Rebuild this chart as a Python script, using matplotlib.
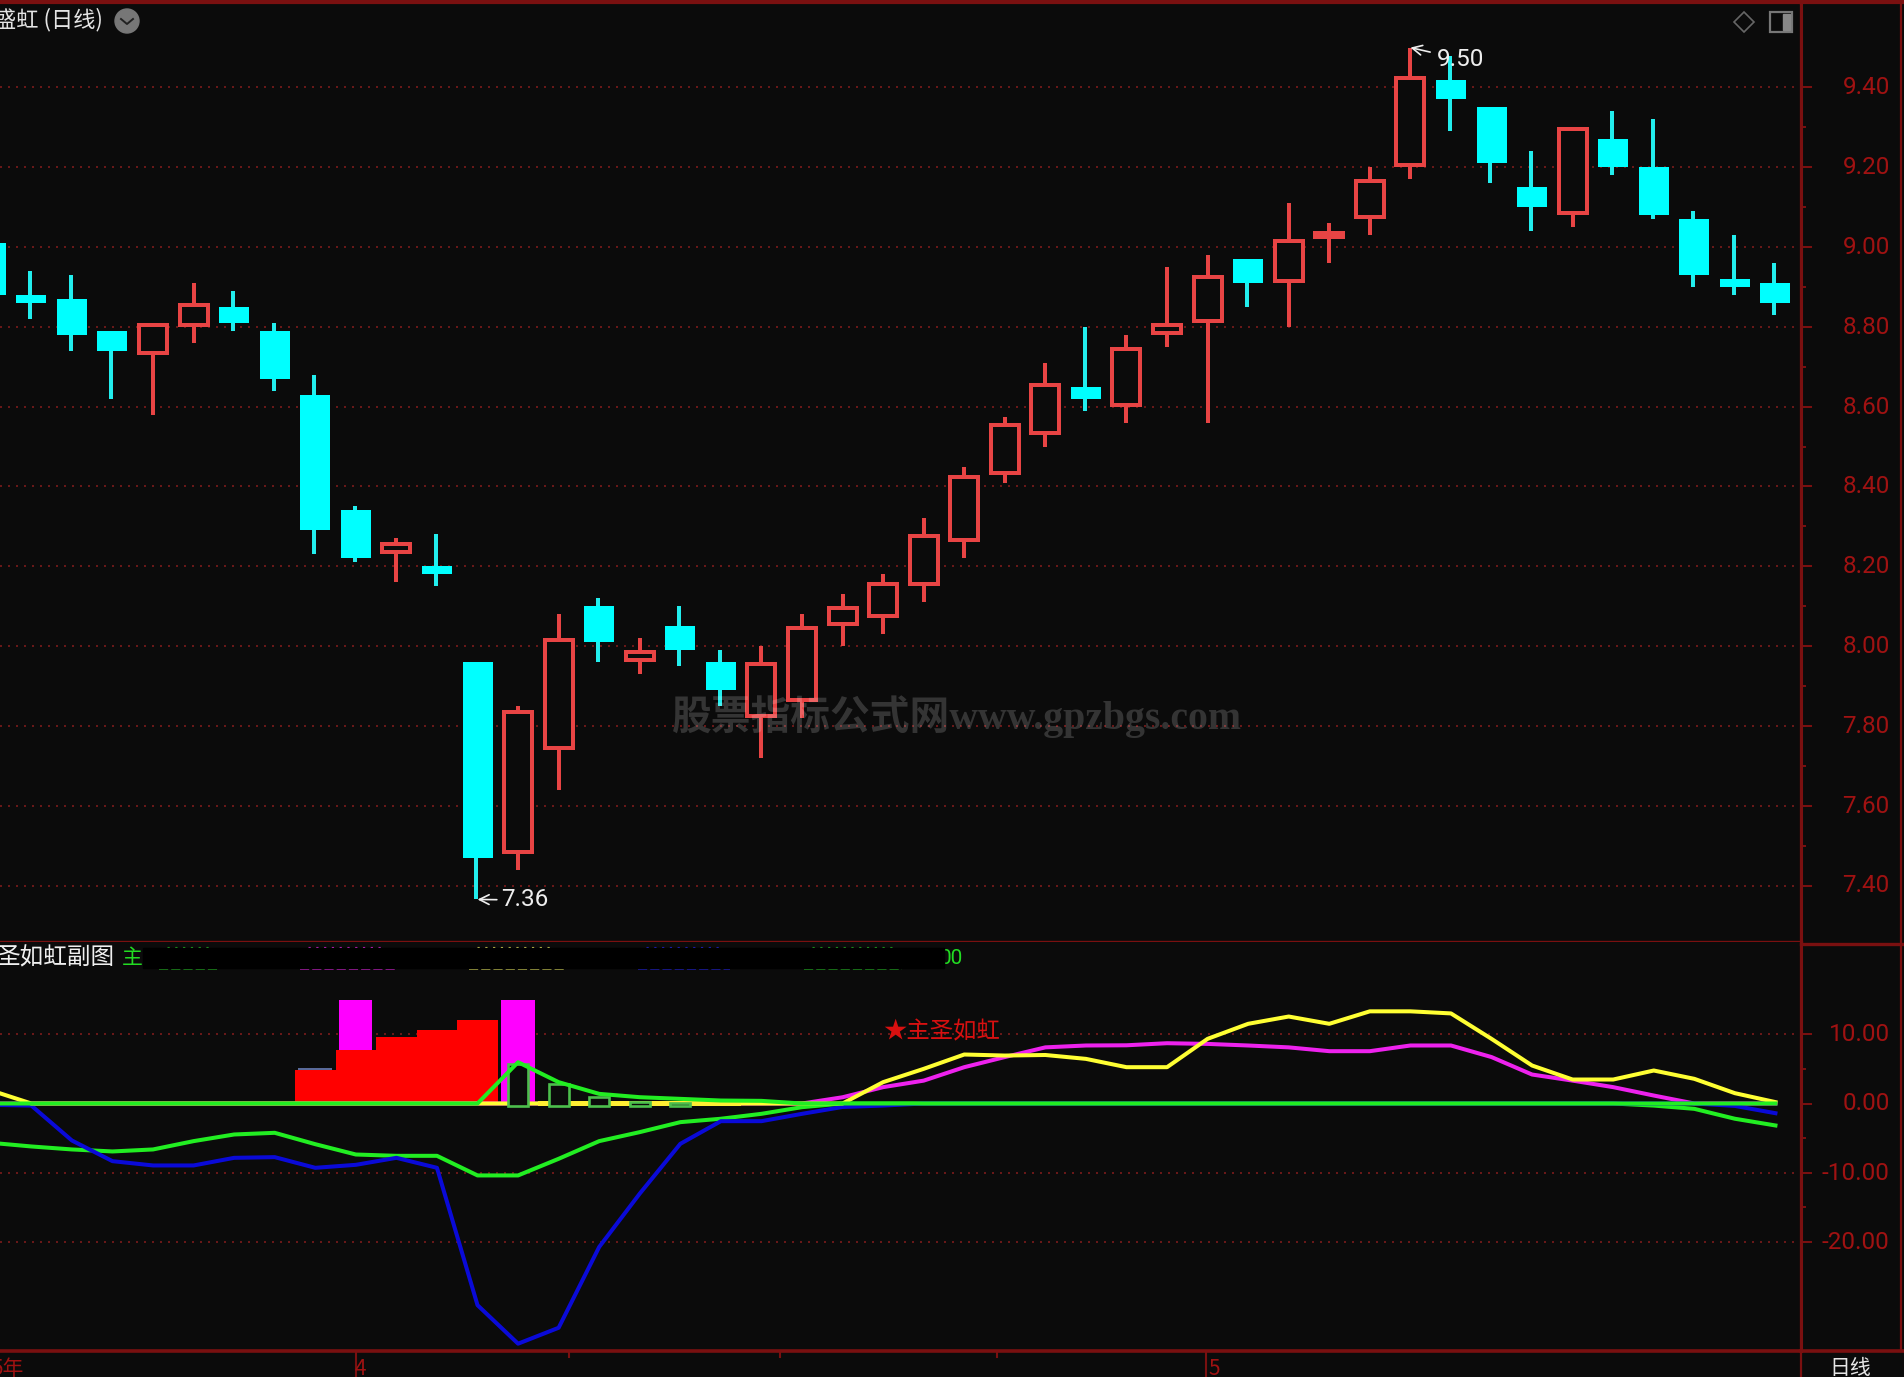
import matplotlib
matplotlib.use("Agg")
import matplotlib.pyplot as plt
from matplotlib.patches import Circle, Polygon, Rectangle
from matplotlib.ticker import FixedLocator
from matplotlib.transforms import ScaledTranslation
import numpy as np

# ---------- data ----------
opens = [9.01,8.88,8.87,8.79,8.73,8.80,8.85,8.79,8.63,8.34,8.23,8.20,7.96,7.48,7.74,8.10,7.96,8.05,7.96,7.82,7.86,8.05,8.07,8.15,8.26,8.43,8.53,8.65,8.60,8.78,8.81,8.97,8.91,9.02,9.07,9.20,9.42,9.35,9.15,9.08,9.27,9.20,9.07,8.92,8.91]
closes = [8.88,8.86,8.78,8.74,8.81,8.86,8.81,8.67,8.29,8.22,8.26,8.18,7.47,7.84,8.02,8.01,7.99,7.99,7.89,7.96,8.05,8.10,8.16,8.28,8.43,8.56,8.66,8.62,8.75,8.81,8.93,8.91,9.02,9.04,9.17,9.43,9.37,9.21,9.10,9.30,9.20,9.08,8.93,8.90,8.86]
highs = [9.01,8.94,8.93,8.79,8.81,8.91,8.89,8.81,8.68,8.35,8.27,8.28,7.96,7.85,8.08,8.12,8.02,8.10,7.99,8.00,8.08,8.13,8.18,8.32,8.45,8.575,8.71,8.80,8.78,8.95,8.98,8.97,9.11,9.06,9.20,9.50,9.48,9.35,9.24,9.30,9.34,9.32,9.09,9.03,8.96]
lows = [8.88,8.82,8.74,8.62,8.58,8.76,8.79,8.64,8.23,8.21,8.16,8.15,7.365,7.44,7.64,7.96,7.93,7.95,7.85,7.72,7.82,8.00,8.03,8.11,8.22,8.41,8.50,8.59,8.56,8.75,8.56,8.85,8.80,8.96,9.03,9.17,9.29,9.16,9.04,9.05,9.18,9.07,8.90,8.88,8.83]

lower_green = [-5.67,-6.2,-6.63,-6.92,-6.63,-5.43,-4.47,-4.23,-5.87,-7.36,-7.55,-7.55,-10.38,-10.38,-7.98,-5.43,-4.13,-2.69,-2.2,-1.49,-0.53,0,0,0,0,0,0,0,0,0,0,0,0,0,0,0,0,0,0,0,0,-0.3,-0.77,-2.2,-3.17]
blue_line = [-0.2,-0.3,-5.34,-8.32,-8.94,-8.94,-7.84,-7.74,-9.28,-8.85,-7.84,-9.28,-29.1,-34.66,-32.36,-20.7,-13.0,-5.82,-2.55,-2.55,-1.49,-0.5,-0.3,0,0,0,0,0,0,0,0,0,0,0,0,0,0,0,0,0,0,0,0,-0.35,-1.4]
magenta_line = [0,0,0,0,0,0,0,0,0,0,0,0,0,0,0,0,0,0,0,0,0,0.9,2.36,3.3,5.24,6.7,8.1,8.37,8.4,8.7,8.6,8.37,8.1,7.55,7.55,8.37,8.37,6.7,4.18,3.3,2.36,1.15,0,0,0]
yellow_line = [1.9,0,0,0,0,0,0,0,0,0,0,0,0,0,0,0,0,0,0,0,0,0,3.08,5.0,7.07,6.92,7.0,6.44,5.24,5.24,9.33,11.5,12.55,11.5,13.3,13.3,13.0,9.33,5.48,3.46,3.46,4.76,3.56,1.49,0.2]
zero_green = [0,0,0,0,0,0,0,0,0,0,0,0,0,5.96,3.08,1.39,0.91,0.67,0.43,0.38,0,0,0,0,0,0,0,0,0,0,0,0,0,0,0,0,0,0,0,0,0,0,0,0,0]

red_idx = [8, 9, 10, 11, 12]
red_vals = [4.86, 7.79, 9.57, 10.67, 12.1]
magenta_idx = [9, 13]
magenta_vals = [15.0, 15.0]
slate_idx = [8]
slate_vals = [5.15]
yellow_idx = [14, 15, 16, 17, 18]
yellow_vals = [0.3, 0.3, 0.3, 0.3, 0.3]
outline_idx = [13, 14, 15, 16, 17]
outline_vals = [5.96, 3.08, 1.25, 0.58, 0.43]

price_ticks = [7.40,7.60,7.80,8.00,8.20,8.40,8.60,8.80,9.00,9.20,9.40]
price_minor = [7.50,7.70,7.90,8.10,8.30,8.50,8.70,8.90,9.10,9.30]
ind_ticks = [-20, -10, 0, 10]
ind_labels = ["-20.00", "-10.00", "0.00", "10.00"]
ind_minor = [-15, -5, 5]
x_major = [9, 29.97]
x_minor = [14.25, 19.45, 24.8]

# ---------- style ----------
W, H = 1904, 1377
BG = "#0b0b0b"
FRAME = "#7a1010"
GRID = "#681818"
LBL = "#a01212"
RED = "#e84444"
CYAN = "#00ffff"
CJK = ["Noto Sans CJK SC", "DejaVu Sans"]
NUM = "Roboto"

# pixel geometry
X0 = -9.2; DX = 40.56
PANEL_R = 1801; SPLIT = 942; BOTTOM = 1351; TOP = 2
def px_ax(x0, y0, x1, y1, **kw):
    return fig.add_axes([x0 / W, 1 - y1 / H, (x1 - x0) / W, (y1 - y0) / H], **kw)

fig = plt.figure(figsize=(W / 100, H / 100), dpi=100, facecolor=BG)
ax = px_ax(0, TOP, PANEL_R, SPLIT, facecolor=BG)
ai = px_ax(0, SPLIT, PANEL_R, BOTTOM, facecolor=BG)
ov = px_ax(0, 0, W, H, facecolor="none", zorder=10)
ov.set_xlim(0, W); ov.set_ylim(H, 0); ov.axis("off")

xlim = ((0 - X0) / DX, (PANEL_R - X0) / DX)
PY = 399.0
ax.set_xlim(*xlim)
ax.set_ylim(9.40 - (SPLIT - 87.5) / PY, 9.40 + (87.5 - TOP) / PY)
IY = 6.93
ai.set_xlim(*xlim)
ai.set_ylim((1103.5 - BOTTOM) / IY, (1103.5 - SPLIT) / IY)

# ---------- price panel ----------
dots = (0, (1, 3))
grid_end = (1795 - X0) / DX
ax.hlines(price_ticks, xlim[0], grid_end, colors=GRID, lw=1.44, linestyles=[dots], zorder=1)

n = len(opens)
inset = 2 / PY
for i in range(n):
    o, c, h, l = opens[i], closes[i], highs[i], lows[i]
    if c >= o:
        ax.vlines(i, l, h, colors=RED, lw=2.88, zorder=3)
        ax.bar(i, c - o - 2 * inset, bottom=o + inset, width=0.69, facecolor=BG,
               edgecolor=RED, linewidth=2.88, zorder=4)
    else:
        ax.vlines(i - 0.03, l, h, colors="#22eeee", lw=2.88, zorder=3)
        ax.bar(i, o - c, bottom=c, width=0.74, facecolor=CYAN, edgecolor="none", zorder=4)

for a in (ax, ai):
    a.tick_params(which="both", left=False, bottom=False, labelleft=False, labelbottom=False,
                  right=True, labelright=True, colors=FRAME)
    for s in ("left", "bottom"):
        a.spines[s].set_visible(False)
    for s in ("top", "right"):
        a.spines[s].set_color(FRAME); a.spines[s].set_linewidth(2.2)
ai.spines["top"].set_visible(False)
ai.spines["bottom"].set_visible(True); ai.spines["bottom"].set_color(FRAME); ai.spines["bottom"].set_linewidth(2.6)
ax.spines["top"].set_linewidth(3)
ax.spines["bottom"].set_visible(True); ax.spines["bottom"].set_color(FRAME); ax.spines["bottom"].set_linewidth(2.4)

ax.set_yticks(price_ticks); ax.set_yticklabels([f"{v:.2f}" for v in price_ticks])
ax.yaxis.set_minor_locator(FixedLocator(price_minor))
ai.set_yticks(ind_ticks); ai.set_yticklabels(ind_labels)
ai.yaxis.set_minor_locator(FixedLocator(ind_minor))
lift = ScaledTranslation(0, 2 / 100, fig.dpi_scale_trans)
for a in (ax, ai):
    a.tick_params(axis="y", which="major", length=7.9, width=1.44, pad=56, labelcolor=LBL, labelsize=17.5)
    a.tick_params(axis="y", which="minor", length=3.6, width=1.44, labelright=False)
    for t in a.get_yticklabels():
        t.set_ha("right"); t.set_fontfamily(NUM)
        t.set_transform(t.get_transform() + lift)
ax.set_xticks([]); ai.set_xticks([])

ann = dict(color="#eeeeee", fontsize=17.5, fontfamily=NUM, zorder=8, va="center", ha="left",
           annotation_clip=False)
ax.annotate("7.36", xy=(12, min(lows)), xytext=(501, 900), textcoords=ov.transData,
            arrowprops=dict(arrowstyle="->", color="#eeeeee", lw=1.2, shrinkA=1, shrinkB=0), **ann)
ax.annotate("9.50", xy=(35, max(highs)), xytext=(1437, 59), textcoords=ov.transData,
            arrowprops=dict(arrowstyle="->", color="#eeeeee", lw=1.2, shrinkA=3, shrinkB=0), **ann)

# ---------- indicator panel ----------
ai.hlines([10, -10, -20], xlim[0], grid_end, colors=GRID, lw=1.44, linestyles=[dots], zorder=1)
ai.bar(slate_idx, slate_vals, width=0.83, color="#5a6a9a", zorder=2)
ai.bar(magenta_idx, magenta_vals, width=0.82, color="#ff00ff", zorder=2)
ai.bar(red_idx, red_vals, width=1.0, color="#ff0000", zorder=3)
ai.bar(magenta_idx[1:], magenta_vals[1:], width=0.82, color="#ff00ff", zorder=4)

x = np.arange(n)
lw = 2.9
ai.plot(x, magenta_line, color="#ee22ee", lw=lw, zorder=6)
ai.plot(x, lower_green, color="#22ee22", lw=lw, zorder=6)
ai.plot(x, blue_line, color="#0a0ad8", lw=lw, zorder=6.5)
ai.plot(x, yellow_line, color="#ffff33", lw=lw, zorder=7)
ai.bar(yellow_idx, [2 * v for v in yellow_vals], bottom=[-v for v in yellow_vals], width=1.0,
       color="#ffee33", zorder=7.2)
ai.bar(outline_idx, outline_vals, bottom=-0.3, width=0.5, facecolor=BG, edgecolor="#4cbf4c",
       linewidth=1.9, zorder=7.5)
ai.plot(x, zero_green, color="#22ee22", lw=lw, zorder=8)

ai.text(883, 1032, "★主圣如虹", transform=ov.transData, color="#d81010", fontsize=16.8,
        family=CJK, va="center", ha="left", zorder=9)

# x ticks on the date strip
for v in x_major:
    ov.plot([X0 + DX * v] * 2, [BOTTOM, H], color=FRAME, lw=1.5)
for v in x_minor:
    ov.plot([X0 + DX * v] * 2, [BOTTOM, BOTTOM + 6], color=FRAME, lw=1.5)
tick_text = dict(color=LBL, family=CJK, fontsize=15, va="center", ha="left")
ov.text(-9, 1369, "5年", **tick_text)
ov.text(355, 1369, "4", **tick_text)
ov.text(1208, 1369, "5", **tick_text)
ov.text(1829, 1368, "日线", color="#e6e6e6", family=CJK, fontsize=15, va="center", ha="left")

# ---------- overlay: frame, header, icons, watermark ----------
ov.plot([PANEL_R, PANEL_R], [0, H], color=FRAME, lw=1.6)
ov.plot([PANEL_R, W], [1.5, 1.5], color=FRAME, lw=3)
ov.plot([PANEL_R, W], [944, 944], color=FRAME, lw=2.4)
ov.plot([PANEL_R, W], [BOTTOM, BOTTOM], color=FRAME, lw=2.6)
ov.plot([1901, 1901], [0, BOTTOM], color=FRAME, lw=1.6)

ov.text(-6, 20, "盛虹 (日线)", color="#e4e4e4", family=CJK, fontsize=16, va="center", ha="left")
ov.add_patch(Circle((127, 21), 12, color="#777777"))
ov.plot([121, 127, 133], [19, 24, 19], color="#222222", lw=1.4)
ov.add_patch(Polygon([(1744, 12), (1754, 22), (1744, 32), (1734, 22)], closed=True, fill=False,
                     edgecolor="#666666", lw=1.2))
ov.add_patch(Rectangle((1770, 12), 22, 20, fill=False, edgecolor="#777777", lw=1.6))
ov.add_patch(Rectangle((1783, 14), 7, 16, color="#888888"))

ov.text(-4, 958, "圣如虹副图", color="#f0f0f0", family=CJK, fontsize=17, va="center", ha="left")
ov.text(122, 958, "主", color="#22dd22", family=CJK, fontsize=15, va="center", ha="left", zorder=1)
ov.text(940, 958, "00", color="#22dd22", family=NUM, fontsize=15, va="center", ha="left", zorder=1)
frag_x = [(159, 220), (300, 395), (469, 564), (638, 730), (804, 902)]
frag_c = ["#22aa22", "#cc22cc", "#cccc55", "#2222cc", "#22aa22"]
for (a0, a1), c in zip(frag_x, frag_c):
    ov.plot([a0, a1], [968.5, 968.5], color=c, lw=1.1, ls=(0, (6, 2)), zorder=1)
    ov.plot([a0 + 8, a1 - 10], [947, 947], color=c, lw=0.8, ls=(0, (2, 5)), zorder=1)
ov.add_patch(Rectangle((143, 948), 801, 19.5, color="#000000", zorder=2))

ov.text(672, 717, "股票指标公式网www.gpzbgs.com", color="white", alpha=0.17, fontsize=28.6,
        family=["Liberation Serif", "Noto Sans CJK SC"], fontweight="bold",
        va="center", ha="left", zorder=3)

fig.savefig("out.png", dpi=100, facecolor=BG)
